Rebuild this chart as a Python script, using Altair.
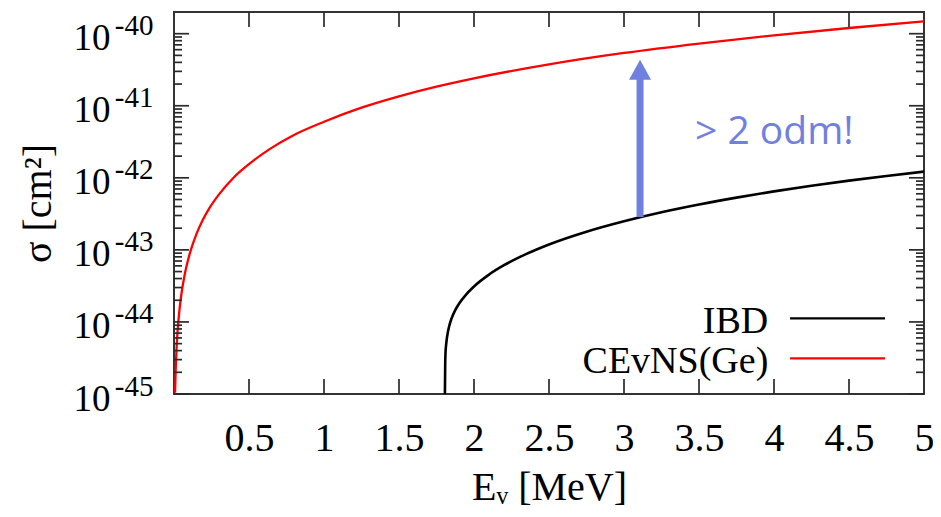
import altair as alt
import pandas as pd

# ---------------- data ----------------
cevns_e = [0.007, 0.011, 0.016, 0.022, 0.029, 0.036, 0.045, 0.055, 0.068, 0.084,
           0.11, 0.15, 0.19, 0.24, 0.3, 0.4, 0.5, 0.64, 0.8, 1.0,
           1.25, 1.5, 1.75, 2.0, 2.5, 3.0, 3.5, 4.0, 4.5, 5.0]
cevns_sigma = [1.04e-45, 2.1e-45, 3.9e-45, 6.5e-45, 1.01e-44, 1.44e-44, 2.08e-44, 2.91e-44,
               4.17e-44, 6.0e-44, 9.6e-44, 1.67e-43, 2.56e-43, 3.92e-43, 5.9e-43, 1.02e-42,
               1.55e-42, 2.52e-42, 3.93e-42, 6.0e-42, 9.4e-42, 1.35e-41,
               1.84e-41, 2.4e-41, 3.75e-41, 5.4e-41, 7.3e-41, 9.5e-41, 1.2e-40, 1.48e-40]

ibd_e = [1.806, 1.808, 1.81, 1.815, 1.82, 1.835, 1.85, 1.875, 1.9, 1.95, 2.0,
         2.1, 2.2, 2.35, 2.5, 2.75, 3.0, 3.25, 3.5, 3.75, 4.0, 4.25, 4.5, 4.75, 5.0]
ibd_sigma = [1.0e-45, 2.6e-45, 3.7e-45, 5.0e-45, 6.1e-45, 8.8e-45, 1.11e-44, 1.46e-44,
             1.79e-44, 2.44e-44, 3.11e-44, 4.54e-44, 6.12e-44, 8.8e-44, 1.19e-43,
             1.79e-43, 2.5e-43, 3.33e-43, 4.26e-43, 5.31e-43, 6.48e-43, 7.75e-43,
             9.14e-43, 1.06e-42, 1.22e-42]

x_ticks = [0.5, 1, 1.5, 2, 2.5, 3, 3.5, 4, 4.5]
x_labels = [0.5, 1, 1.5, 2, 2.5, 3, 3.5, 4, 4.5, 5]
y_major = [1e-45, 1e-44, 1e-43, 1e-42, 1e-41, 1e-40]
minor_mult = [2, 3, 4, 5, 6, 7, 8, 9]
decades = [-45, -44, -43, -42, -41]
y_minor = [m * 10.0 ** d for d in decades for m in minor_mult]

series_names = ["IBD", "CEvNS(Ge)"]
series_colors = ["#000000", "#ff0000"]
annotation_text = "> 2 odm!"

# arrow (data coordinates)
arrow_e = [3.107]
arrow_from = [2.85e-43]
arrow_to = [2.7e-41]
arrow_head = [3.16e-41]

# ---------------- layout constants ----------------
W, H = 750, 382
X_MIN, X_MAX = 0.0, 5.0
Y_MIN, Y_MAX = 1e-45, 2e-40
PX_PER_X = W / (X_MAX - X_MIN)
PX_PER_DECADE = 72.0
MAJ, MIN = 15, 8
SERIF = "Liberation Serif"
BLUE = "#7080e0"
TICK = "#2a2a2a"

xs = alt.Scale(domain=[X_MIN, X_MAX], nice=False, zero=False)
ys = alt.Scale(type="log", domain=[Y_MIN, Y_MAX], nice=False)

cevns_df = pd.DataFrame({"E": cevns_e, "sigma": cevns_sigma})
ibd_df = pd.DataFrame({"E": ibd_e, "sigma": ibd_sigma})

# ---- one rule layer: legend keys + inward frame ticks ----
rows = []
# legend keys (placed in data coordinates)
leg_y = [1.12e-44, 3.13e-45]
for name, col, yv in zip(series_names, series_colors, leg_y):
    rows.append({"x1": 4.107, "x2": 4.74, "y1": yv, "y2": yv, "c": col, "w": 2.2})
# y ticks, left and right
for vals, L in [(y_major, MAJ), (y_minor, MIN)]:
    d = L / PX_PER_X
    for v in vals:
        rows.append({"x1": X_MIN, "x2": X_MIN + d, "y1": v, "y2": v, "c": TICK, "w": 1.7})
        rows.append({"x1": X_MAX, "x2": X_MAX - d, "y1": v, "y2": v, "c": TICK, "w": 1.7})
# x ticks, bottom and top
f = 10 ** (MAJ / PX_PER_DECADE)
for v in x_ticks:
    rows.append({"x1": v, "x2": v, "y1": Y_MIN, "y2": Y_MIN * f, "c": TICK, "w": 1.7})
    rows.append({"x1": v, "x2": v, "y1": Y_MAX, "y2": Y_MAX / f, "c": TICK, "w": 1.7})
rule_df = pd.DataFrame(rows)

rules = alt.Chart(rule_df).mark_rule().encode(
    x=alt.X("x1:Q", scale=xs, axis=None),
    x2="x2:Q",
    y=alt.Y("y1:Q", scale=ys, axis=None),
    y2="y2:Q",
    color=alt.Color("c:N", scale=None, legend=None),
    strokeWidth=alt.StrokeWidth("w:Q", scale=None, legend=None),
)

# axis carrying the x labels and title
x_label_axis = alt.Axis(orient="bottom", values=x_labels, ticks=False, tickSize=0,
                        domain=False, grid=False, labelExpr="'' + datum.value",
                        labelFont=SERIF, labelFontSize=40, labelColor="black",
                        labelBaseline="alphabetic", labelPadding=56,
                        labelFlush=False, labelOverlap=False, labelBound=False,
                        title="Eᵥ [MeV]", titleFont=SERIF, titleFontSize=40,
                        titleFontWeight="normal", titleColor="black",
                        titleBaseline="alphabetic", titleY=105)

y_ten_axis = alt.Axis(orient="left", values=y_major, ticks=False, tickSize=0,
                      domain=False, grid=False, labelExpr="'10'",
                      labelFont=SERIF, labelFontSize=37, labelColor="black",
                      labelAlign="right", labelBaseline="alphabetic",
                      labelPadding=64, labelOffset=16, labelOverlap=False,
                      labelFlush=False, labelBound=False,
                      title="σ [cm²]", titleFont=SERIF, titleFontSize=40,
                      titleFontWeight="normal", titleColor="black",
                      titleAngle=270, titleBaseline="bottom", titleAlign="center",
                      titleX=-116, titleY=H / 2)

y_exp_axis = alt.Axis(orient="left", values=y_major, ticks=False, tickSize=0,
                      domain=False, grid=False,
                      labelExpr="'' + round(log(datum.value) / LN10)",
                      labelFont=SERIF, labelFontSize=29, labelColor="black",
                      labelAlign="right", labelBaseline="alphabetic",
                      labelPadding=21, labelOffset=1, labelOverlap=False,
                      labelFlush=False, labelBound=False, title=None)

red_line = alt.Chart(cevns_df).mark_line(color=series_colors[1], strokeWidth=2.3,
                                         interpolate="monotone", clip=True).encode(
    x=alt.X("E:Q", scale=xs, axis=x_label_axis),
    y=alt.Y("sigma:Q", scale=ys, axis=y_ten_axis),
)

black_line = alt.Chart(ibd_df).mark_line(color=series_colors[0], strokeWidth=2.6,
                                         interpolate="monotone", clip=True).encode(
    x=alt.X("E:Q", scale=xs, axis=None),
    y=alt.Y("sigma:Q", scale=ys, axis=y_exp_axis),
)

# arrow
arrow_df = pd.DataFrame({"E": arrow_e, "y1": arrow_from, "y2": arrow_to, "yh": arrow_head})
shaft = alt.Chart(arrow_df).mark_rule(color=BLUE, strokeWidth=7).encode(
    x=alt.X("E:Q", scale=xs, axis=None),
    y=alt.Y("y1:Q", scale=ys, axis=None),
    y2="y2:Q",
)
head = alt.Chart(arrow_df).mark_point(shape="M0,-0.91L1,0.91L-1,0.91Z", size=484,
                                      filled=True, opacity=1, color=BLUE,
                                      strokeWidth=0).encode(
    x=alt.X("E:Q", scale=xs, axis=None),
    y=alt.Y("yh:Q", scale=ys, axis=None),
)

ann_df = pd.DataFrame({"E": [3.473], "sigma": [2.96e-42], "t": [annotation_text]})
ann = alt.Chart(ann_df).mark_text(font="Open Sans", fontSize=39, color=BLUE,
                                  align="left", baseline="alphabetic").encode(
    x=alt.X("E:Q", scale=xs, axis=None),
    y=alt.Y("sigma:Q", scale=ys, axis=None),
    text="t:N",
)

# legend labels
leg_df = pd.DataFrame({"label": series_names, "tx": [3.962, 3.962], "y": leg_y})
leg_text = alt.Chart(leg_df).mark_text(font=SERIF, fontSize=38, color="black",
                                       align="right", baseline="alphabetic",
                                       dy=15).encode(
    x=alt.X("tx:Q", scale=xs, axis=None),
    y=alt.Y("y:Q", scale=ys, axis=None),
    text="label:N",
)

chart = alt.layer(
    red_line, black_line, shaft, head, ann, leg_text, rules
).resolve_axis(x="independent", y="independent").properties(
    width=W, height=H,
    padding={"left": 166, "top": 4, "right": 9, "bottom": 115},
    autosize=alt.AutoSizeParams(type="none"),
).configure_view(stroke="#333333", strokeWidth=2)

chart.save("out.html", embed_options={"renderer": "svg", "actions": False})
